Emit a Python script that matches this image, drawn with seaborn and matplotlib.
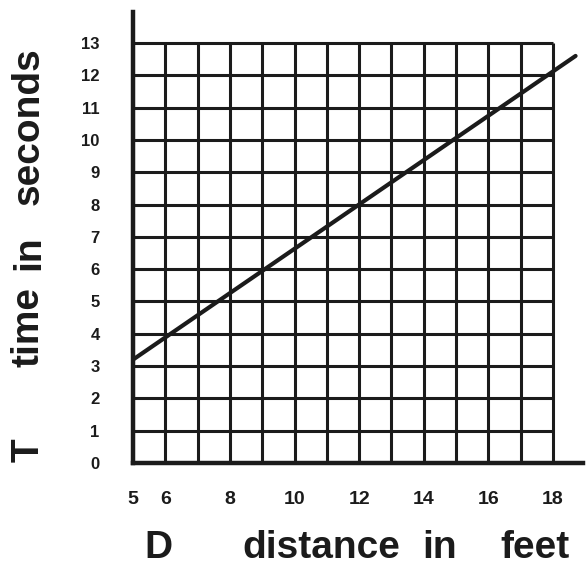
import matplotlib
matplotlib.use('Agg')
import matplotlib.pyplot as plt
import seaborn as sns

# Daten der Geraden (Distanz in Fuss, Zeit in Sekunden)
distance = [5, 18.7]
time_s = [3.2, 12.6]

# Gitter und Achsenbeschriftung
x_grid = list(range(5, 19))
y_grid = list(range(0, 14))
x_ticks = [5, 6, 8, 10, 12, 14, 16, 18]
y_ticks = list(range(0, 14))

sns.set_style('white')
plt.rcParams['font.family'] = ['Liberation Sans', 'DejaVu Sans']

W, H = 587, 572
fig = plt.figure(figsize=(W / 100, H / 100), dpi=100)
ax = fig.add_axes([133 / W, (H - 463) / H, (583 - 133) / W, (463 - 12) / H])
ink = '#1b1b1b'

# Gitter wird gezeichnet
ax.vlines(x_grid, 0, 13, color=ink, linewidth=2.2, zorder=1)
ax.hlines(y_grid, 5, 18, color=ink, linewidth=2.2, zorder=1)

# Gerade
sns.lineplot(x=distance, y=time_s, ax=ax, color=ink, linewidth=3.0, zorder=3)

ax.set_xlim(5, 18.93)
ax.set_ylim(0, 13.96)
for side in ['top', 'right']:
    ax.spines[side].set_visible(False)
for side in ['left', 'bottom']:
    ax.spines[side].set_linewidth(3.2)
    ax.spines[side].set_color(ink)
    ax.spines[side].set_zorder(4)

ax.set_xticks(x_ticks)
ax.set_yticks(y_ticks)
ax.set_xticklabels([str(v) for v in x_ticks], fontsize=14, fontweight='bold', color=ink)
ax.set_yticklabels([str(v) for v in y_ticks], fontsize=12, fontweight='bold', color=ink)
ax.tick_params(axis='x', length=0, pad=20)
ax.tick_params(axis='y', length=0, pad=24)

# Achsentitel, Wort fuer Wort mit weiten Abstaenden wie im Original
label_style = dict(fontsize=28, fontweight='bold', color=ink, ha='center', va='center')
for word, yc in [('seconds', 126), ('in', 253), ('time', 327), ('T', 450)]:
    fig.text(29 / W, 1 - yc / H, word, rotation=90, **label_style)
for word, xc in [('D', 158), ('distance', 321), ('in', 440), ('feet', 535)]:
    fig.text(xc / W, 1 - 548 / H, word, **label_style)

fig.savefig('out.png', dpi=100, facecolor='white')
